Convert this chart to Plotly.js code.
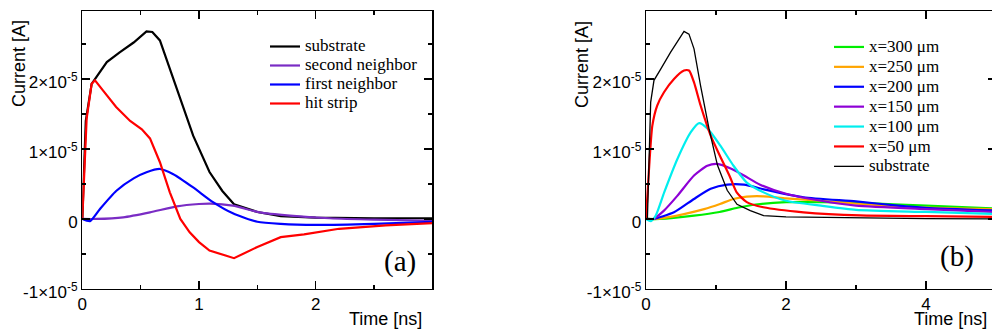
<!DOCTYPE html>
<html>
<head>
<meta charset="utf-8">
<script src="https://cdn.plot.ly/plotly-3.0.1.min.js"></script>
<style>
html,body{margin:0;padding:0;overflow:hidden;background:#fff;width:992px;height:331px;}
#chart{width:1000px;height:331px;}
</style>
</head>
<body>
<div id="chart"></div>
<script>
// ---------- Panel (a) ----------
var aSubT = [0, 0.03, 0.08, 0.11, 0.21, 0.32, 0.44, 0.55, 0.6, 0.665, 0.75, 0.84, 0.95, 1.09, 1.2, 1.3, 1.5, 1.7, 2.0, 2.5, 3.0];
var aSubI = [0, 1.4e-5, 1.93e-5, 2.0e-5, 2.24e-5, 2.38e-5, 2.52e-5, 2.68e-5, 2.67e-5, 2.55e-5, 2.14e-5, 1.71e-5, 1.19e-5, 0.67e-5, 0.4e-5, 0.21e-5, 0.1e-5, 0.04e-5, 0.02e-5, 0.01e-5, 0.01e-5];

var aSecT = [0, 0.12, 0.35, 0.58, 0.81, 1.0, 1.1, 1.29, 1.52, 1.78, 2.12, 2.5, 3.0];
var aSecI = [0, 0, 0.024e-5, 0.095e-5, 0.18e-5, 0.214e-5, 0.22e-5, 0.19e-5, 0.095e-5, 0.048e-5, 0.01e-5, -0.01e-5, -0.025e-5];

var aFirstT = [0, 0.066, 0.15, 0.29, 0.44, 0.55, 0.665, 0.78, 0.95, 1.12, 1.29, 1.5, 1.7, 2.0, 2.5, 3.0];
var aFirstI = [0, -0.03e-5, 0.14e-5, 0.40e-5, 0.58e-5, 0.667e-5, 0.714e-5, 0.64e-5, 0.45e-5, 0.24e-5, 0.08e-5, -0.04e-5, -0.07e-5, -0.085e-5, -0.07e-5, -0.04e-5];

var aHitT = [0, 0.023, 0.037, 0.08, 0.109, 0.18, 0.29, 0.41, 0.51, 0.58, 0.665, 0.75, 0.84, 0.92, 1.0, 1.09, 1.3, 1.5, 1.7, 1.9, 2.2, 2.6, 3.0];
var aHitI = [0, 0.95e-5, 1.43e-5, 1.93e-5, 1.98e-5, 1.83e-5, 1.6e-5, 1.4e-5, 1.28e-5, 1.15e-5, 0.81e-5, 0.38e-5, 0.0, -0.19e-5, -0.33e-5, -0.45e-5, -0.56e-5, -0.4e-5, -0.26e-5, -0.22e-5, -0.14e-5, -0.09e-5, -0.06e-5];

var aNames = ['substrate', 'second neighbor', 'first neighbor', 'hit strip'];

// ---------- Panel (b) ----------
var b300T = [0, 0.2, 0.686, 1.05, 1.34, 1.63, 2.0, 2.5, 3.06, 4.0, 5.0];
var b300I = [0, 0, 0.048e-5, 0.1e-5, 0.167e-5, 0.214e-5, 0.24e-5, 0.24e-5, 0.23e-5, 0.19e-5, 0.15e-5];

var b250T = [0, 0.15, 0.543, 0.83, 1.057, 1.248, 1.44, 1.68, 2.0, 2.5, 3.06, 3.9, 5.0];
var b250I = [0, 0, 0.07e-5, 0.14e-5, 0.214e-5, 0.286e-5, 0.32e-5, 0.324e-5, 0.295e-5, 0.26e-5, 0.214e-5, 0.167e-5, 0.14e-5];

var b200T = [0, 0.1, 0.4, 0.686, 0.924, 1.16, 1.4, 1.7, 2.25, 3.0, 3.6, 4.0, 5.0];
var b200I = [0, 0, 0.095e-5, 0.286e-5, 0.43e-5, 0.49e-5, 0.49e-5, 0.42e-5, 0.31e-5, 0.25e-5, 0.19e-5, 0.16e-5, 0.12e-5];

var b150T = [0, 0.1, 0.257, 0.447, 0.686, 0.876, 1.02, 1.21, 1.4, 1.63, 2.0, 2.5, 3.0, 4.0, 5.0];
var b150I = [0, 0, 0.12e-5, 0.33e-5, 0.62e-5, 0.76e-5, 0.786e-5, 0.72e-5, 0.62e-5, 0.49e-5, 0.36e-5, 0.26e-5, 0.19e-5, 0.14e-5, 0.1e-5];

var b100T = [0, 0.07, 0.14, 0.26, 0.45, 0.64, 0.76, 0.88, 1.06, 1.25, 1.44, 1.68, 2.0, 2.5, 3.0, 4.0, 5.0];
var b100I = [0, -0.03e-5, 0.05e-5, 0.38e-5, 0.86e-5, 1.24e-5, 1.37e-5, 1.29e-5, 1.05e-5, 0.76e-5, 0.52e-5, 0.38e-5, 0.26e-5, 0.19e-5, 0.13e-5, 0.1e-5, 0.07e-5];

var b50T = [0, 0.043, 0.09, 0.16, 0.257, 0.4, 0.543, 0.614, 0.686, 0.78, 0.924, 1.057, 1.2, 1.296, 1.44, 1.676, 2.25, 3.06, 4.0, 5.0];
var b50I = [0, 0.71e-5, 1.33e-5, 1.62e-5, 1.81e-5, 2.0e-5, 2.12e-5, 2.12e-5, 1.95e-5, 1.62e-5, 1.19e-5, 0.9e-5, 0.6e-5, 0.38e-5, 0.24e-5, 0.167e-5, 0.095e-5, 0.05e-5, 0.04e-5, 0.03e-5];

var bSubT = [0, 0.02, 0.067, 0.114, 0.21, 0.35, 0.543, 0.614, 0.686, 0.78, 0.9, 1.02, 1.16, 1.3, 1.49, 1.68, 2.0, 3.0, 4.0, 5.0];
var bSubI = [0, 0, 1.67e-5, 1.98e-5, 2.14e-5, 2.38e-5, 2.68e-5, 2.64e-5, 2.43e-5, 1.9e-5, 1.29e-5, 0.77e-5, 0.41e-5, 0.21e-5, 0.12e-5, 0.048e-5, 0.03e-5, 0.014e-5, 0.005e-5, 0];

var bNames = ['x=300 \u03bcm', 'x=250 \u03bcm', 'x=200 \u03bcm', 'x=150 \u03bcm', 'x=100 \u03bcm', 'x=50 \u03bcm', 'substrate'];

// tick labels
var yTickVals = [-1e-5, 0, 1e-5, 2e-5];
var yTickText = ['-1\u00d710<sup>-5</sup>', '0', '1\u00d710<sup>-5</sup>', '2\u00d710<sup>-5</sup>'];

function lg(name) { return '<span style="font-size:17px">' + name + '</span>'; }

function tr(x, y, name, color, width, shape, xa, ya, leg) {
  return {x: x, y: y, name: lg(name), type: 'scatter', mode: 'lines',
          line: {color: color, width: width, shape: shape, smoothing: 0.6},
          xaxis: xa, yaxis: ya, legend: leg, hoverinfo: 'skip'};
}

var traces = [
  tr(aSubT, aSubI, aNames[0], '#000000', 2.2, 'linear', 'x', 'y', 'legend'),
  tr(aSecT, aSecI, aNames[1], '#7a2cc4', 2.2, 'spline', 'x', 'y', 'legend'),
  tr(aFirstT, aFirstI, aNames[2], '#0000ff', 2.2, 'spline', 'x', 'y', 'legend'),
  tr(aHitT, aHitI, aNames[3], '#ff0000', 2.2, 'linear', 'x', 'y', 'legend'),
  tr(b300T, b300I, bNames[0], '#00ee00', 2.2, 'spline', 'x2', 'y2', 'legend2'),
  tr(b250T, b250I, bNames[1], '#ffa500', 2.2, 'spline', 'x2', 'y2', 'legend2'),
  tr(b200T, b200I, bNames[2], '#0000ff', 2.2, 'spline', 'x2', 'y2', 'legend2'),
  tr(b150T, b150I, bNames[3], '#8e00d6', 2.2, 'spline', 'x2', 'y2', 'legend2'),
  tr(b100T, b100I, bNames[4], '#00eeee', 2.2, 'spline', 'x2', 'y2', 'legend2'),
  tr(b50T, b50I, bNames[5], '#ff0000', 2.2, 'spline', 'x2', 'y2', 'legend2'),
  tr(bSubT, bSubI, bNames[6], '#000000', 1.3, 'linear', 'x2', 'y2', 'legend2')
];

var tickFont = {family: 'Liberation Sans, Arial, sans-serif', size: 17, color: '#000'};
function xAx(domain, range, dtick, minorD) {
  return {domain: domain, range: range, dtick: dtick, tick0: 0, tickmode: 'linear',
          ticks: 'inside', ticklen: 8, tickwidth: 1.2, tickcolor: '#000',
          minor: {dtick: minorD, tick0: 0, ticks: 'inside', ticklen: 4, tickwidth: 1.2, tickcolor: '#000', showgrid: false},
          showline: true, linecolor: '#000', linewidth: 1.3, mirror: 'ticks',
          showgrid: false, zeroline: false, tickfont: tickFont, ticklabelstandoff: -1, fixedrange: true};
}
function yAx(domain, anchor) {
  return {domain: domain, anchor: anchor, range: [-1e-5, 2.97e-5], tickmode: 'array',
          tickvals: yTickVals, ticktext: yTickText,
          ticks: 'inside', ticklen: 8, tickwidth: 1.2, tickcolor: '#000',
          minor: {dtick: 0.5e-5, tick0: 0, ticks: 'inside', ticklen: 4, tickwidth: 1.2, tickcolor: '#000', showgrid: false},
          showline: true, linecolor: '#000', linewidth: 1.3, mirror: 'ticks',
          showgrid: false, zeroline: false, tickfont: tickFont, ticklabelstandoff: 0,
          ticklabelshift: 3, fixedrange: true};
}

var yDom = [42 / 331, 320 / 331];
var sansTitle = {family: 'Liberation Sans, Arial, sans-serif', size: 18, color: '#000'};
var serifLab = {family: 'Liberation Serif, Times New Roman, serif', size: 29, color: '#000'};

var layout = {
  width: 1000, height: 331,
  margin: {l: 0, r: 0, t: 0, b: 0},
  paper_bgcolor: '#fff', plot_bgcolor: '#fff',
  showlegend: true,
  xaxis: xAx([0.0823, 0.4323], [0, 2.999], 1, 0.5),
  yaxis: yAx(yDom, 'x'),
  xaxis2: xAx([0.646, 0.996], [0, 5], 2, 1),
  yaxis2: yAx(yDom, 'x2'),
  legend: {x: 0.265, y: 1 - 32 / 331, xanchor: 'left', yanchor: 'top', bgcolor: 'rgba(0,0,0,0)',
           borderwidth: 0, font: {family: 'Liberation Serif, Times New Roman, serif', size: 12, color: '#000'}},
  legend2: {x: 0.829, y: 1 - 32 / 331, xanchor: 'left', yanchor: 'top', bgcolor: 'rgba(0,0,0,0)',
           borderwidth: 0, font: {family: 'Liberation Serif, Times New Roman, serif', size: 13, color: '#000'}},
  annotations: [
    {text: 'Current [A]', xref: 'paper', yref: 'paper', x: 0.019, y: 1 - 64 / 331, textangle: -90,
     xanchor: 'center', yanchor: 'middle', showarrow: false, font: sansTitle},
    {text: 'Current [A]', xref: 'paper', yref: 'paper', x: 0.582, y: 1 - 65 / 331, textangle: -90,
     xanchor: 'center', yanchor: 'middle', showarrow: false, font: sansTitle},
    {text: 'Time [ns]', xref: 'paper', yref: 'paper', x: 0.3855, y: 1 - 319 / 331,
     xanchor: 'center', yanchor: 'middle', showarrow: false, font: sansTitle},
    {text: 'Time [ns]', xref: 'paper', yref: 'paper', x: 0.950, y: 1 - 319 / 331,
     xanchor: 'center', yanchor: 'middle', showarrow: false, font: sansTitle},
    {text: '(a)', xref: 'paper', yref: 'paper', x: 0.3995, y: 1 - 261 / 331,
     xanchor: 'center', yanchor: 'middle', showarrow: false, font: serifLab},
    {text: '(b)', xref: 'paper', yref: 'paper', x: 0.9565, y: 1 - 256 / 331,
     xanchor: 'center', yanchor: 'middle', showarrow: false, font: serifLab}
  ]
};

Plotly.newPlot('chart', traces, layout, {staticPlot: true, displayModeBar: false});
</script>
</body>
</html>
